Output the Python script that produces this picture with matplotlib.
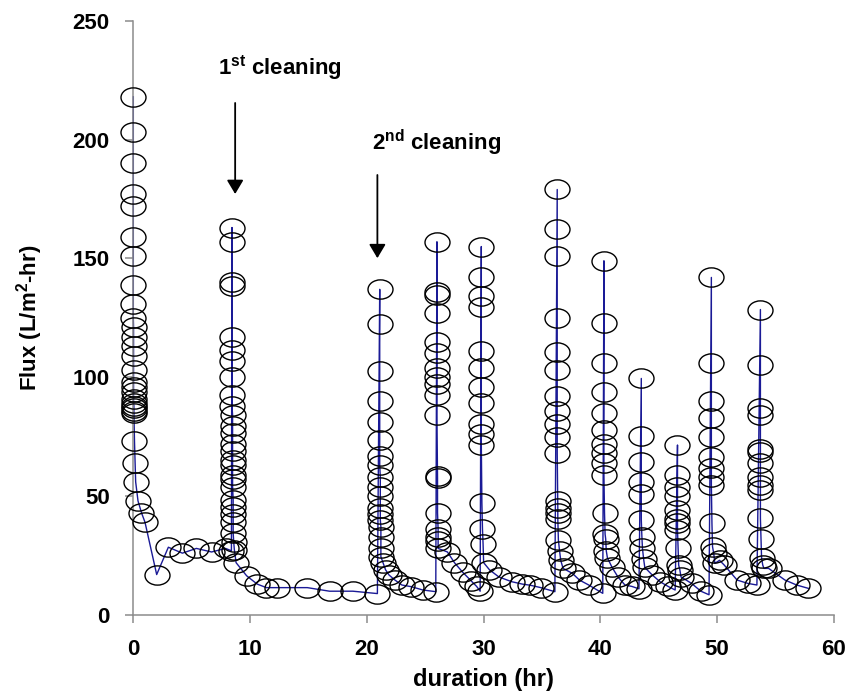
import numpy as np
import matplotlib
matplotlib.use("Agg")
import matplotlib.pyplot as plt
from matplotlib.path import Path

plt.rcParams["font.family"] = ["Liberation Sans", "DejaVu Sans"]
plt.rcParams["font.weight"] = "bold"
plt.rcParams["mathtext.fontset"] = "custom"
plt.rcParams["mathtext.rm"] = "Liberation Sans:bold"
plt.rcParams["mathtext.it"] = "Liberation Sans:bold"
plt.rcParams["mathtext.bf"] = "Liberation Sans:bold"

# --- data: flux decline over each run ---
# start of test (t = 0) and fouling before 1st cleaning
t_run0 = [0.00, 0.00, 0.00, 0.00, 0.00, 0.00, 0.00, 0.00, 0.00, 0.00,
          0.02, 0.02, 0.02, 0.02, 0.02, 0.02, 0.02, 0.02, 0.02, 0.02,
          0.05, 0.05, 0.05, 0.05, 0.10, 0.15, 0.20, 0.40, 0.70, 1.00,
          2.0, 3.0, 4.2, 5.4, 6.7, 7.9, 8.4]
f_run0 = [218, 203, 190, 177, 172, 159, 151, 139, 131, 125,
          121, 117, 113, 109, 103, 98, 96, 94, 91, 89,
          88, 87, 86, 85, 73, 64, 56, 48, 43, 39,
          17, 28.5, 26, 28, 26.5, 28, 27]

# after 1st cleaning
t_run1 = [8.45, 8.45, 8.45, 8.45, 8.45, 8.45, 8.45, 8.45, 8.45, 8.45,
          8.5, 8.5, 8.5, 8.5, 8.5, 8.5, 8.5, 8.5, 8.5, 8.5,
          8.55, 8.55, 8.55, 8.55, 8.55, 8.6, 8.65,
          8.8, 9.7, 10.6, 11.4, 12.3, 14.9, 16.8, 18.8, 20.9]
f_run1 = [163, 157, 140, 138.5, 117, 111.5, 107, 100, 92.5, 88,
          84, 79.5, 76.5, 72, 69, 65, 63, 59, 57, 54,
          48.5, 45.5, 42.5, 39, 34.5, 30.5, 27.5,
          22, 16.5, 13, 11.5, 11.5, 11.5, 10, 10, 9]

# after 2nd cleaning
t_run2 = [21.1, 21.1, 21.1, 21.1, 21.1, 21.1, 21.1, 21.1,
          21.15, 21.15, 21.15, 21.15, 21.15, 21.15, 21.2, 21.2, 21.2, 21.2,
          21.4, 21.6, 21.9, 22.4, 23.0, 23.8, 24.8, 25.9]
f_run2 = [137, 122.5, 102.5, 90, 81, 73.5, 67, 63,
          58, 54, 50, 45, 42.5, 40, 37, 33, 28, 24.5,
          21.7, 19, 16.8, 14.7, 12.6, 11.9, 10.5, 9.8]

t_run3 = [26.0, 26.0, 26.0, 26.0, 26.0, 26.0, 26.0, 26.0, 26.0, 26.0, 26.0,
          26.05, 26.05, 26.05, 26.1, 26.1, 26.1, 26.1,
          26.9, 27.5, 28.2, 28.9, 29.4, 29.7]
f_run3 = [157, 136, 134.5, 127, 115, 110, 104, 100, 97, 92.5, 84,
          58.5, 57.5, 43, 36, 33, 31, 28,
          26.5, 22, 18, 14.5, 12, 10]

t_run4 = [29.8, 29.8, 29.8, 29.8, 29.8, 29.8, 29.8, 29.8, 29.8, 29.8, 29.8,
          29.85, 29.9, 29.95, 30.0,
          30.5, 31.3, 32.4, 33.3, 34.0, 34.9, 36.1]
f_run4 = [155, 142, 134, 129.5, 111, 104, 96, 89, 80.5, 76, 71.5,
          47, 36, 30, 22,
          19, 16, 14, 13, 12.5, 11.5, 9.8]

t_run5 = [36.3, 36.3, 36.3, 36.3, 36.3, 36.3, 36.3, 36.3, 36.3, 36.3, 36.3,
          36.35, 36.35, 36.35, 36.35, 36.4, 36.5, 36.6, 36.8,
          37.6, 38.2, 39.0, 40.2]
f_run5 = [179, 162.5, 151, 125, 110.5, 103, 92, 86, 80.5, 75, 68,
          48, 45, 43, 40.5, 31.5, 27, 23, 19.6,
          17.5, 14.7, 12.6, 9.1]

t_run6 = [40.3, 40.3, 40.3, 40.3, 40.3, 40.3, 40.3, 40.3, 40.3, 40.3,
          40.35, 40.4, 40.45, 40.5, 40.6,
          41.0, 41.5, 42.1, 42.7, 43.3]
f_run6 = [149, 123, 106, 94, 85, 78, 72, 68, 64, 59,
          43, 34, 32, 27, 24,
          20, 16, 12.6, 12, 11]

t_run7 = [43.5, 43.5, 43.5, 43.5, 43.5, 43.5, 43.55, 43.6, 43.7, 43.8,
          44.4, 45.1, 45.8, 46.4]
f_run7 = [99.5, 75.5, 64.5, 56, 51, 40, 33, 28, 23.5, 20,
          17, 14, 12, 10.5]

t_run8 = [46.6, 46.6, 46.6, 46.6, 46.6, 46.6, 46.6, 46.6,
          46.65, 46.7, 46.8, 46.9,
          47.8, 48.6, 49.3]
f_run8 = [71.5, 59, 54, 50, 44, 40.5, 38.5, 35.7,
          28, 21, 19, 16,
          13.3, 10, 8.5]

t_run9 = [49.5, 49.5, 49.5, 49.5, 49.5, 49.5, 49.5, 49.5, 49.5,
          49.55, 49.6, 49.7, 49.8,
          50.2, 50.6, 51.7, 52.6, 53.4]
f_run9 = [142, 106, 90, 83, 75, 66.5, 62, 58, 54.6,
          38.5, 28.7, 26, 21.7,
          23, 21, 14.7, 13.3, 12.6]

t_run10 = [53.7, 53.7, 53.7, 53.7, 53.7, 53.7, 53.7, 53.7, 53.7, 53.7, 53.7,
           53.75, 53.8, 53.9, 54.0,
           54.4, 55.8, 56.8, 57.8]
f_run10 = [128.5, 105, 87, 84, 70, 68.7, 64, 58, 54.6, 52.5, 40.6,
           32, 24, 21, 19.6,
           19.6, 14.7, 12.6, 11.2]

times = [t_run0, t_run1, t_run2, t_run3, t_run4, t_run5,
         t_run6, t_run7, t_run8, t_run9, t_run10]
fluxes = [f_run0, f_run1, f_run2, f_run3, f_run4, f_run5,
          f_run6, f_run7, f_run8, f_run9, f_run10]

t = np.concatenate(times)
flux = np.concatenate(fluxes)

# cleaning arrows: (x, y_start, y_end)
arrow1 = (8.72, 215.4, 177.1)
arrow2 = (20.9, 185.1, 150.1)

# ellipse marker (circles look stretched in the original)
circ = Path.unit_circle()
ellipse = Path(circ.vertices * np.array([1.3, 1.0]), circ.codes)

fig = plt.figure(figsize=(8.53, 6.93), dpi=100)
ax = fig.add_axes([0.1563, 0.1126, 0.8214, 0.8575])

ax.plot(t, flux, color="#1a1a96", lw=1.0, zorder=2, clip_on=False)
ax.plot(t, flux, ls="none", marker=ellipse, ms=18, mfc="none",
        mec="black", mew=1.0, zorder=3, clip_on=False)

ax.set_xlim(0, 60)
ax.set_ylim(0, 250)
ax.set_xticks(np.arange(0, 61, 10))
ax.set_yticks(np.arange(0, 251, 50))

for s in ["top", "right"]:
    ax.spines[s].set_visible(False)
for s in ["left", "bottom"]:
    ax.spines[s].set_color("#8c8c8c")
    ax.spines[s].set_linewidth(1.1)
ax.tick_params(axis="both", direction="out", length=6, width=1.1,
               color="#8c8c8c", labelsize=16, pad=11)

ax.set_xlabel("duration (hr)", fontsize=17, fontweight="bold", labelpad=6)
ax.set_ylabel("Flux (L/m$^{2}$-hr)", fontsize=16, fontweight="bold", labelpad=20)

for (x, y0, y1) in [arrow1, arrow2]:
    ax.annotate("", xy=(x, y1), xytext=(x, y0),
                arrowprops=dict(arrowstyle="-|>,head_width=0.25,head_length=0.42",
                                color="black", lw=1.3, mutation_scale=20,
                                shrinkA=0, shrinkB=0))

ax.text(7.25, 227.2, "1$^{st}$ cleaning", fontsize=16, fontweight="bold",
        ha="left", va="baseline")
ax.text(20.4, 195.6, "2$^{nd}$ cleaning", fontsize=16, fontweight="bold",
        ha="left", va="baseline")

fig.savefig("out.png", dpi=100)
